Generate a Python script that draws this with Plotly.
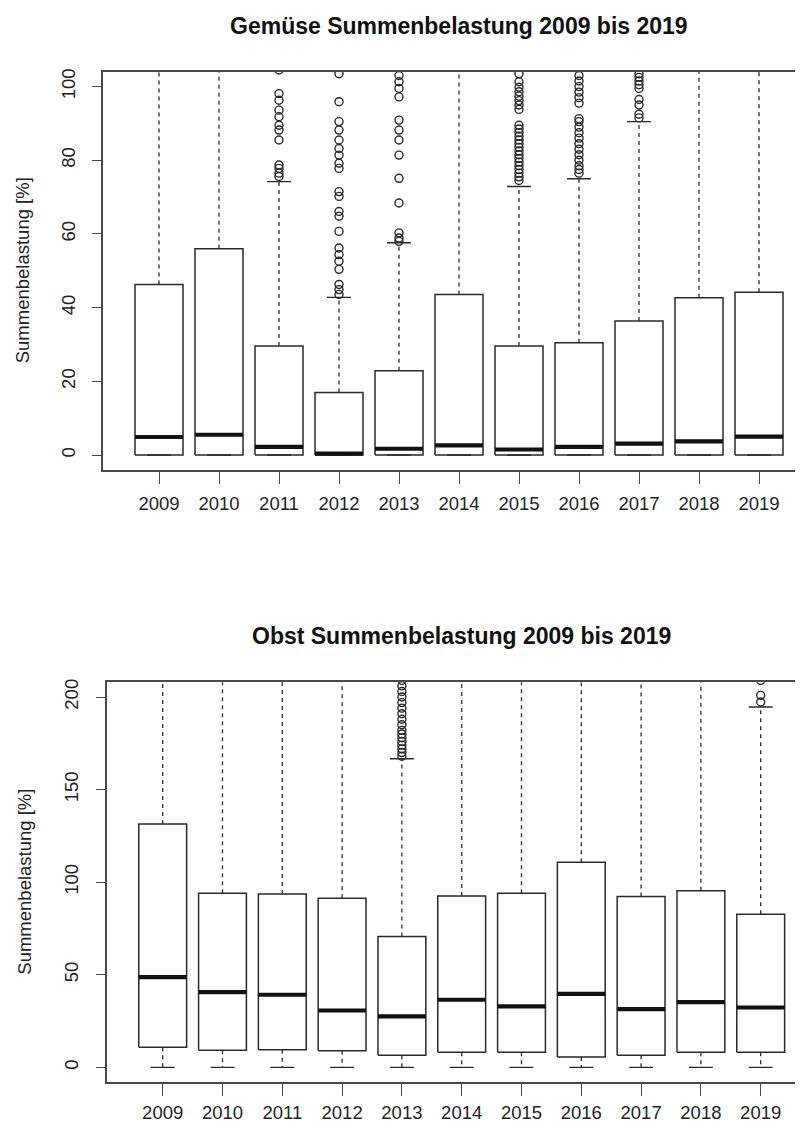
import plotly.graph_objects as go

# ---------------- data ----------------
years = ["2009", "2010", "2011", "2012", "2013", "2014", "2015", "2016", "2017", "2018", "2019"]
positions = [1, 2, 3, 4, 5, 6, 7, 8, 9, 10, 11]

# Gemüse (vegetables)
gem_q1 = [0, 0, 0, 0, 0, 0, 0, 0, 0, 0, 0]
gem_median = [4.9, 5.5, 2.2, 0.4, 1.7, 2.6, 1.5, 2.2, 3.1, 3.7, 5.0]
gem_q3 = [46.3, 56.0, 29.6, 17.0, 22.9, 43.6, 29.6, 30.5, 36.4, 42.7, 44.2]
gem_whisker_low = [0, 0, 0, 0, 0, 0, 0, 0, 0, 0, 0]
gem_whisker_high = [110, 135, 74.2, 42.8, 57.6, 106, 72.9, 75.0, 90.5, 106, 108]
gem_outliers = [
    [],
    [],
    [75.6, 76.5, 77.8, 78.7, 85.5, 88.2, 89.5, 91.8, 93.6, 96.3, 98.1, 104.5],
    [43.6, 44.9, 46.3, 50.4, 52.6, 54.4, 56.2, 60.7, 64.8, 66.1, 70.2, 71.5,
     77.8, 79.2, 81.4, 83.2, 85.5, 88.2, 90.5, 95.9, 103.5],
    [58.0, 58.9, 60.3, 68.4, 75.1, 81.4, 85.5, 88.2, 90.9, 97.2, 99.5, 101.3, 103.0],
    [],
    [74.5, 75.5, 76.5, 77.5, 78.5, 79.5, 80.5, 81.5, 82.5, 83.5, 84.5, 85.5, 86.5,
     87.5, 88.5, 89.5, 93.8, 95.0, 96.2, 97.4, 98.6, 99.8, 101.3, 103.5],
    [76.5, 77.5, 78.5, 80.0, 81.5, 83.0, 84.5, 86.0, 87.5, 89.0, 90.5, 91.3,
     95.5, 97.0, 98.5, 100.0, 101.5, 103.0],
    [91.5, 92.5, 95.0, 96.5, 99.5, 100.5, 101.5, 102.5, 103.5],
    [],
    [],
]

# Obst (fruit)
obst_q1 = [10.8, 9.2, 9.5, 9.0, 6.5, 8.1, 8.1, 5.6, 6.5, 8.1, 8.1]
obst_median = [48.7, 40.6, 39.2, 30.7, 27.5, 36.5, 32.9, 39.7, 31.4, 35.2, 32.3]
obst_q3 = [131.4, 94.0, 93.6, 91.3, 70.6, 92.5, 94.0, 110.7, 92.2, 95.4, 82.7]
obst_whisker_low = [0, 0, 0, 0, 0, 0, 0, 0, 0, 0, 0]
obst_whisker_high = [300, 215, 215, 215, 166.7, 215, 220, 260, 215, 225, 194.6]
obst_outliers = [
    [], [], [], [],
    [168, 170, 172, 174, 176, 178, 180, 182, 185, 188, 191, 194, 197, 200, 203, 206, 209],
    [], [], [], [], [],
    [197.3, 200.9, 209],
]

gem_title = "Gemüse Summenbelastung 2009 bis 2019"
obst_title = "Obst Summenbelastung 2009 bis 2019"
y_title = "Summenbelastung [%]"
gem_yticks = [0, 20, 40, 60, 80, 100]
obst_yticks = [0, 50, 100, 150, 200]

# ---------------- style ----------------
W, H = 803, 1126
OFF = 8  # page body margin: the figure is drawn 8 px right and down in the window
BOXW = 0.8
CAPW = 0.4
LINE = "#2a2a2a"
FONT = "Liberation Sans, Arial, Helvetica, sans-serif"
TICK_SIZE = 18.5
TITLE_SIZE = 23


def panel_traces(q1, med, q3, lo, hi, outl, xa, ya):
    bx, by, mx, my, wx, wy, cx, cy, ox, oy = [], [], [], [], [], [], [], [], [], []
    for i, p in enumerate(positions):
        l, r = p - BOXW / 2, p + BOXW / 2
        bx += [l, r, r, l, l, None]
        by += [q1[i], q1[i], q3[i], q3[i], q1[i], None]
        mx += [l, r, None]
        my += [med[i], med[i], None]
        wx += [p, p, None, p, p, None]
        wy += [q3[i], hi[i], None, q1[i], lo[i], None]
        cx += [p - CAPW / 2, p + CAPW / 2, None, p - CAPW / 2, p + CAPW / 2, None]
        cy += [hi[i], hi[i], None, lo[i], lo[i], None]
        for v in outl[i]:
            ox.append(p)
            oy.append(v)
    common = dict(xaxis=xa, yaxis=ya, showlegend=False, hoverinfo="skip")
    return [
        go.Scatter(x=wx, y=wy, mode="lines", line=dict(color=LINE, width=1.3, dash="4px,4px"), **common),
        go.Scatter(x=cx, y=cy, mode="lines", line=dict(color=LINE, width=1.4), **common),
        go.Scatter(x=bx, y=by, mode="lines", line=dict(color=LINE, width=1.5), **common),
        go.Scatter(x=mx, y=my, mode="lines", line=dict(color="#111111", width=4.2), **common),
        go.Scatter(x=ox, y=oy, mode="markers", cliponaxis=True,
                   marker=dict(symbol="circle-open", size=8, color=LINE, line=dict(width=1.4)), **common),
    ]


fig = go.Figure()
for t in panel_traces(gem_q1, gem_median, gem_q3, gem_whisker_low, gem_whisker_high, gem_outliers, "x", "y"):
    fig.add_trace(t)
for t in panel_traces(obst_q1, obst_median, obst_q3, obst_whisker_low, obst_whisker_high, obst_outliers, "x2", "y2"):
    fig.add_trace(t)


def fx(s):
    """window pixel (x) -> figure paper fraction"""
    return (s - OFF) / W


def fy(s):
    """window pixel (y, from top) -> figure paper fraction"""
    return (H - (s - OFF)) / H


axis_common = dict(showgrid=False, zeroline=False, showline=True, linecolor="#4a4a4a", linewidth=1.5,
                   ticks="outside", tickcolor="#4a4a4a", tickwidth=1.3,
                   tickfont=dict(family=FONT, size=TICK_SIZE, color="#222222"))

# window pixels of the two plot frames (right side runs off the picture)
TOP_L, TOP_T, TOP_B, TOP_X1, TOP_UNIT = 103, 69, 468, 159, 60.0
BOT_L, BOT_T, BOT_B, BOT_X1, BOT_UNIT = 106.5, 681, 1082, 162.7, 59.8
RIGHT = W + OFF  # figure right edge in window pixels

fig.update_layout(
    width=W, height=H,
    margin=dict(l=0, r=0, t=0, b=0),
    paper_bgcolor="white", plot_bgcolor="white",
    xaxis=dict(domain=[fx(TOP_L), 1.0], range=[1 - (TOP_X1 - TOP_L) / TOP_UNIT, 1 + (RIGHT - TOP_X1) / TOP_UNIT],
               anchor="y", tickvals=positions, ticktext=years, ticklen=12, mirror=True, ticklabelstandoff=4,
               **axis_common),
    yaxis=dict(domain=[fy(TOP_B), fy(TOP_T)], range=[-4, 104], anchor="x",
               tickvals=gem_yticks, ticklen=9, tickangle=-90, ticklabelstandoff=10,
               **axis_common),
    xaxis2=dict(domain=[fx(BOT_L), 1.0], range=[1 - (BOT_X1 - BOT_L) / BOT_UNIT, 1 + (RIGHT - BOT_X1) / BOT_UNIT],
                anchor="y2", tickvals=positions, ticktext=years, ticklen=12, mirror=True, ticklabelstandoff=1,
                **axis_common),
    yaxis2=dict(domain=[fy(BOT_B), fy(BOT_T)], range=[-8, 208], anchor="x2",
                tickvals=obst_yticks, ticklen=9, tickangle=-90, ticklabelstandoff=10,
                **axis_common),
    annotations=[
        dict(text=gem_title, xref="paper", yref="paper", x=fx(459), y=fy(23),
             xanchor="center", yanchor="middle", showarrow=False,
             font=dict(family=FONT, size=TITLE_SIZE, color="#111111", weight="bold")),
        dict(text=obst_title, xref="paper", yref="paper", x=fx(461), y=fy(635),
             xanchor="center", yanchor="middle", showarrow=False,
             font=dict(family=FONT, size=TITLE_SIZE, color="#111111", weight="bold")),
        dict(text=y_title, xref="paper", yref="paper", x=fx(22), y=fy(268),
             xanchor="center", yanchor="middle", showarrow=False, textangle=-90,
             font=dict(family=FONT, size=TICK_SIZE, color="#222222")),
        dict(text=y_title, xref="paper", yref="paper", x=fx(25), y=fy(881),
             xanchor="center", yanchor="middle", showarrow=False, textangle=-90,
             font=dict(family=FONT, size=TICK_SIZE, color="#222222")),
    ],
)

fig.write_html("out.html")
